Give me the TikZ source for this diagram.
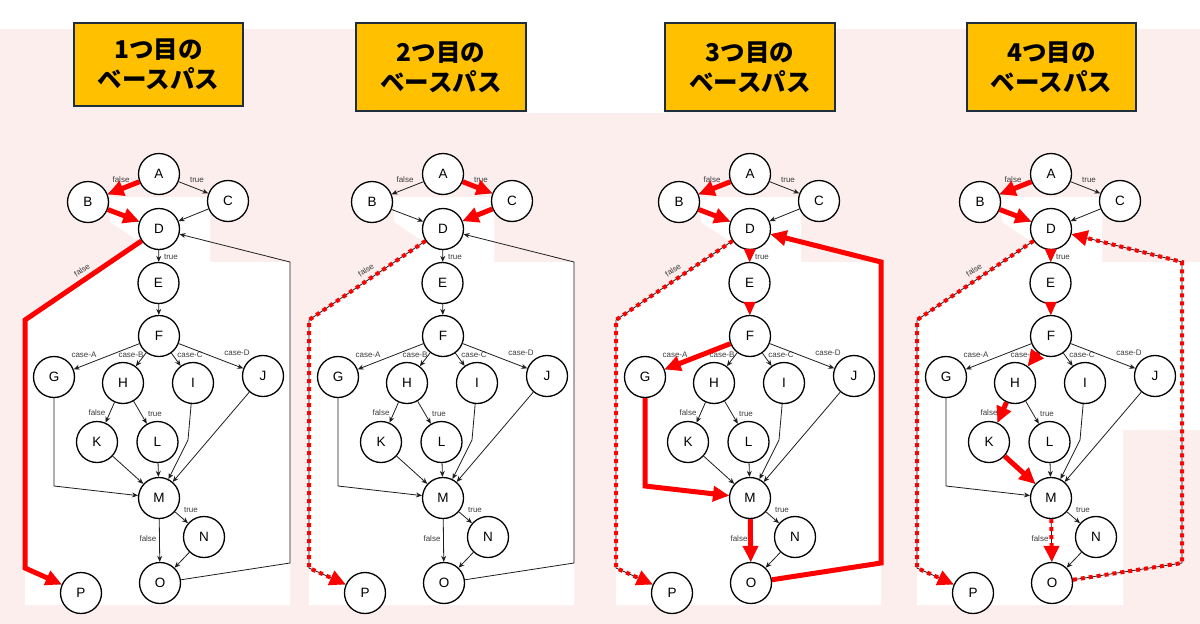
\documentclass[tikz,border=0pt]{standalone}
\usepackage{fontspec}
\setmainfont{Liberation Sans}
\newfontfamily\cjkfont{Noto Sans CJK JP}
\usetikzlibrary{arrows.meta}
\definecolor{bgpink}{RGB}{253,238,238}
\definecolor{titlefill}{RGB}{255,192,0}
\definecolor{titleline}{RGB}{31,45,61}
\definecolor{edgecol}{RGB}{30,30,30}
\definecolor{lblcol}{RGB}{60,60,60}
\tikzset{
 vx/.style={circle, draw=black, line width=1.3pt, fill=white, minimum size=41pt, inner sep=0pt, font=\fontsize{13.5}{13.5}\selectfont},
 ed/.style={draw=edgecol, line width=0.8pt, -{Stealth[length=6pt,width=5pt]}},
 lbl/.style={font=\fontsize{8}{8}\selectfont, text=lblcol, inner sep=0.5pt},
 redsolid/.style={draw=red, line width=5pt, -{Triangle[length=16pt,width=15pt]}},
 reddash/.style={draw=red, line width=4pt, dash pattern=on 4pt off 4pt, -{Triangle[length=16pt,width=15pt]}},
 redtip/.style={draw=red, line width=0.8pt, -{Triangle[length=13pt,width=12pt]}},
 titlebox/.style={draw=titleline, line width=1.5pt, fill=titlefill, font=\cjkfont\bfseries\fontsize{24.5}{30}\selectfont, align=center, inner sep=0pt},
}
\newcommand\whitearea{%
 \fill[white] (110,197) -- (210,197) -- (210,262) -- (290,262) -- (290,605) -- (25,605) -- (25,320) -- (140,242) -- (110,222) -- cycle;
}
\newcommand\basegraph{%
 \node[vx] (A) at (159,174) {A};
 \node[vx] (B) at (88,202) {B};
 \node[vx] (C) at (228,201) {C};
 \node[vx] (D) at (159,229) {D};
 \node[vx] (E) at (158.5,283) {E};
 \node[vx] (F) at (159,336) {F};
 \node[vx] (G) at (54,377) {G};
 \node[vx] (H) at (123,383) {H};
 \node[vx] (I) at (193,383) {I};
 \node[vx] (J) at (263,376) {J};
 \node[vx] (K) at (97,442) {K};
 \node[vx] (L) at (157.5,442) {L};
 \node[vx] (M) at (159,498) {M};
 \node[vx] (N) at (204,537) {N};
 \node[vx] (O) at (160,583) {O};
 \node[vx] (P) at (81,593) {P};
 \coordinate (dp1) at (25,320);
 \coordinate (dp2) at (25,568);
 \coordinate (lp1) at (290,563);
 \coordinate (lp2) at (290,262);
 \coordinate (gm) at (54,486);
 \coordinate (im) at (188,440);
 \node[lbl] (l1) at (121,180) {false};
 \node[lbl] (l2) at (197,180) {true};
 \node[lbl] (l3) at (171,257) {true};
 \node[lbl, rotate=34] (l4) at (82,270) {false};
 \node[lbl] (l5) at (84,355) {case-A};
 \node[lbl] (l6) at (131,355) {case-B};
 \node[lbl] (l7) at (190,355) {case-C};
 \node[lbl] (l8) at (237,353) {case-D};
 \node[lbl] (l9) at (97,413) {false};
 \node[lbl] (l10) at (155,414) {true};
 \node[lbl] (l11) at (191,510) {true};
 \node[lbl] (l12) at (148,539) {false};
 \draw[ed] (A) -- (B);
 \draw[ed] (A) -- (C);
 \draw[ed] (B) -- (D);
 \draw[ed] (C) -- (D);
 \draw[ed] (D) -- (E);
 \draw[ed] (E) -- (F);
 \draw[ed] (D) -- (dp1) -- (dp2) -- (P);
 \draw[ed] (F) -- (G);
 \draw[ed] (F) -- (H);
 \draw[ed] (F) -- (I);
 \draw[ed] (F) -- (J);
 \draw[ed] (H) -- (K);
 \draw[ed] (H) -- (L);
 \draw[ed] (G) -- (gm) -- (M);
 \draw[ed] (I) -- (im) -- (M);
 \draw[ed] (J) -- (M);
 \draw[ed] (K) -- (M);
 \draw[ed] (L) -- (M);
 \draw[ed] (M) -- (N);
 \draw[ed] (M) -- (O);
 \draw[ed] (N) -- (O);
 \draw[ed] (O) -- (lp1) -- (lp2) -- (D);
}
\begin{document}
\begin{tikzpicture}[x=1pt, y=-1pt]
\useasboundingbox (0,0) rectangle (1200,624);
\fill[white] (0,0) rectangle (1200,624);
\fill[bgpink] (0,29) rectangle (1200,624);
\fill[white] (526,0) rectangle (665,113);
% titles
\node[titlebox, minimum width=169pt, minimum height=83pt] (T1) at (158.5,64.5) {1つ目の\\ベースパス};
\node[titlebox, minimum width=170pt, minimum height=88pt] (T2) at (441,67) {2つ目の\\ベースパス};
\node[titlebox, minimum width=170pt, minimum height=88pt] (T3) at (750,67) {3つ目の\\ベースパス};
\node[titlebox, minimum width=169pt, minimum height=88pt] (T4) at (1051.5,67) {4つ目の\\ベースパス};
% panel 1
\begin{scope}[name prefix=p1-]
 \whitearea
 \basegraph
 \draw[redsolid] (A) -- (B);
 \draw[redsolid] (B) -- (D);
 \draw[redsolid] (D) -- (dp1) -- (dp2) -- (P);
\end{scope}
% panel 2
\begin{scope}[xshift=284pt, name prefix=p2-]
 \whitearea
 \basegraph
 \draw[redsolid] (A) -- (C);
 \draw[redsolid] (C) -- (D);
 \draw[reddash] (D) -- (dp1) -- (dp2) -- (P);
\end{scope}
% panel 3
\begin{scope}[xshift=591pt, name prefix=p3-]
 \whitearea
 \basegraph
 \draw[redsolid] (A) -- (B);
 \draw[redsolid] (B) -- (D);
 \draw[redtip] (D) -- (E);
 \draw[redtip] (E) -- (F);
 \draw[reddash] (D) -- (dp1) -- (dp2) -- (P);
 \draw[redsolid] (F) -- (G);
 \draw[redsolid] (G) -- (gm) -- (M);
 \draw[redsolid] (M) -- (O);
 \draw[redsolid] (O) -- (lp1) -- (lp2) -- (D);
\end{scope}
% panel 4
\begin{scope}[xshift=892pt, name prefix=p4-]
 \fill[white] (110,197) -- (210,197) -- (210,262) -- (308,262) -- (308,430) -- (231,430) -- (231,605) -- (25,605) -- (25,320) -- (140,242) -- (110,222) -- cycle;
 \basegraph
 \draw[redsolid] (A) -- (B);
 \draw[redsolid] (B) -- (D);
 \draw[redtip] (D) -- (E);
 \draw[redtip] (E) -- (F);
 \draw[reddash] (D) -- (dp1) -- (dp2) -- (P);
 \draw[redsolid] (F) -- (H);
 \draw[redsolid] (H) -- (K);
 \draw[redsolid] (K) -- (M);
 \draw[reddash] (M) -- (O);
 \draw[reddash] (O) -- (lp1) -- (lp2) -- (D);
\end{scope}
\end{tikzpicture}
\end{document}
